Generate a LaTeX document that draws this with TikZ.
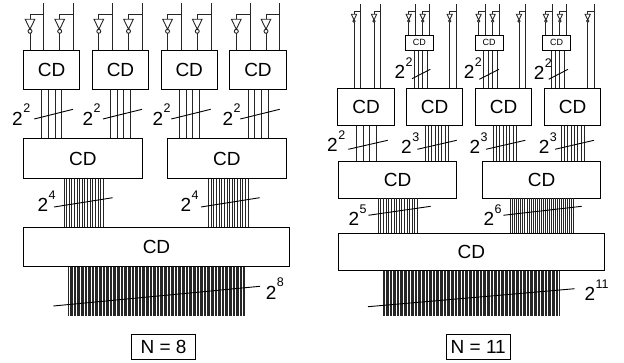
\documentclass[tikz,border=0pt]{standalone}
\usepackage{fontspec}
\setmainfont{Liberation Sans}
\usetikzlibrary{arrows.meta,positioning}
\newcommand{\pw}[1]{2\kern0.5pt\raisebox{12.4pt}{\fontsize{12.5}{12.5}\selectfont #1}}
\begin{document}
\begin{tikzpicture}[
  x=1pt,y=-1pt,
  cd/.style={rectangle,draw,line width=0.9pt,inner sep=0pt,font=\fontsize{19}{19}\selectfont},
  cdsmall/.style={cd,font=\fontsize{9}{9}\selectfont},
  wire/.style={draw=black!85,line width=0.9pt},
  busline/.style={draw=black!85,line width=1pt},
  busthick/.style={draw=black!85,line width=0.9pt},
  slash/.style={draw=black,line width=0.9pt},
  pow/.style={anchor=base west,inner sep=0pt,font=\fontsize{19}{19}\selectfont},
  caption/.style={rectangle,draw,line width=0.9pt,minimum width=63.6pt,minimum height=25.3pt,inner sep=0pt,font=\fontsize{19}{19}\selectfont},
  inv/.pic={
    \draw[wire] (-4.8,0)--(4.8,0)--(0,10)--cycle;
    \draw[wire] (0,12) circle (2);
  },
  invs/.pic={
    \draw[wire] (-2.6,0)--(2.6,0)--(0,5.6)--cycle;
    \draw[wire] (0,6.8) circle (1.2);
  }
]
  \useasboundingbox (0,0) rectangle (624,363);

  \foreach \name/\cx in {ta/51.7,tb/120.5,tc/189.25,td/258}
    \node[cd,minimum width=56.4pt,minimum height=39pt] (\name) at (\cx,70) {CD};
  \node[cd,minimum width=118.3pt,minimum height=39.6pt] (ma) at (82.85,158.5) {CD};
  \node[cd,minimum width=118.3pt,minimum height=39.6pt] (mb) at (226.85,158.5) {CD};
  \node[cd,minimum width=265.6pt,minimum height=39.7pt] (bo) at (156.5,246.85) {CD};
  \node[caption] (n8) at (163.5,347.3) {N = 8};
  \coordinate (lowend) at (0,315.7);

  \foreach \name in {ta,tb,tc,td}{
    \foreach \dx in {-8,21.7}
      \draw[wire] ([xshift=\dx pt]\name.north) -- ([xshift=\dx pt]\name.north |- 0,3.3);
    \coordinate (g1) at ([xshift=-21.7pt]\name.north |- 0,19.3);
    \coordinate (g2) at ([xshift=8pt]\name.north |- 0,19.3);
    \pic at (g1) {inv};
    \pic at (g2) {inv};
    \draw[wire] ([xshift=-21.7pt]\name.north) -- ([yshift=-14pt]g1);
    \draw[wire] ([xshift=8pt]\name.north) -- ([yshift=-14pt]g2);
    \draw[wire] (g1) |- ([yshift=5pt,xshift=13.7pt]g1);
    \draw[wire] (g2) |- ([yshift=5pt,xshift=13.7pt]g2);
  }
  \foreach \name/\to in {ta/ma,tb/ma,tc/mb,td/mb}
    \foreach \dx in {-10,-3.3,3.3,10}
      \draw[wire] ([xshift=\dx pt]\name.south) -- ([xshift=\dx pt]\name.south |- \to.north);
  \foreach \name/\cx in {ma/64,mb/208.7}
    \foreach \i in {0,...,15}
      \draw[busline] (\cx+\i*2.62,0 |- \name.south) -- (\cx+\i*2.62,0 |- bo.north);
  \foreach \i in {0,...,127}
    \draw[busthick] (68.7+\i*1.383,0 |- bo.south) -- (68.7+\i*1.383,0 |- lowend);

  \draw[slash] (34.3,119) -- (73,109.3);
  \draw[slash] (103,119) -- (142,109.3);
  \draw[slash] (171.3,119) -- (210.7,109.3);
  \draw[slash] (240.3,119) -- (279.7,109.3);
  \draw[slash] (54,207) -- (112.7,197.7);
  \draw[slash] (201,207) -- (259.7,197.7);
  \draw[slash] (53.3,306) -- (260,286.3);
  \foreach \x in {12,82.3,152.3,222.3}
    \node[pow] at (\x,125.3) {\pw{2}};
  \node[pow] at (37.3,211.6) {\pw{4}};
  \node[pow] at (180.3,211.6) {\pw{4}};
  \node[pow] at (265.7,299.3) {\pw{8}};

  \foreach \name/\cx in {ra/366,rb/434.7,rc/503.7,rd/572.5}
    \node[cd,minimum width=56.2pt,minimum height=36.6pt] (\name) at (\cx,107) {CD};
  \foreach \name/\cx in {sb/419.3,sc/489.2,sd/556.5}
    \node[cdsmall,minimum width=28.5pt,minimum height=15.7pt] (\name) at (\cx,42.85) {CD};
  \node[cd,minimum width=118.4pt,minimum height=36.7pt] (na) at (397.5,179.65) {CD};
  \node[cd,minimum width=118.4pt,minimum height=36.7pt] (nb) at (541.5,179.65) {CD};
  \node[cd,minimum width=266pt,minimum height=36.6pt] (bn) at (471.3,252) {CD};
  \node[caption] (n11) at (478.2,347.3) {N = 11};

  \foreach \name/\dxa in {ra/-12,ra/8,rb/15,rc/15.3,rd/15.2,sb/-10.6,sb/3.4,sc/-10.6,sc/3.4,sd/-10.6,sd/3.4}{
    \coordinate (g1) at ([xshift=\dxa pt]\name.north |- 0,14.3);
    \pic at (g1) {invs};
    \draw[wire] ([xshift=\dxa pt]\name.north) -- ([yshift=-8pt]g1);
    \draw[wire] (g1) |- ([yshift=2.6pt,xshift=6.6pt]g1);
    \draw[wire] ([xshift=\dxa pt+6.6pt]\name.north) -- ([xshift=\dxa pt+6.6pt]\name.north |- 0,4.3);
  }
  \foreach \name/\to in {sb/rb,sc/rc,sd/rd}
    \foreach \dx in {-5.3,-0.9,3.4,7.9}
      \draw[wire] ([xshift=\dx pt]\name.south) -- ([xshift=\dx pt]\name.south |- \to.north);

  \foreach \dx in {-9.7,-3,3.7,10.3}
    \draw[wire] ([xshift=\dx pt]ra.south) -- ([xshift=\dx pt]ra.south |- na.north);
  \foreach \name/\to/\cx in {rb/na/425,rc/nb/493,rd/nb/561}
    \foreach \i in {0,...,7}
      \draw[wire] (\cx+\i*3.35,0 |- \name.south) -- (\cx+\i*3.35,0 |- \to.north);
  \foreach \i in {0,...,15}
    \draw[busline] (378.3+\i*2.62,0 |- na.south) -- (378.3+\i*2.62,0 |- bn.north);
  \foreach \i in {0,...,31}
    \draw[busline] (510.7+\i*2.04,0 |- nb.south) -- (510.7+\i*2.04,0 |- bn.north);
  \foreach \i in {0,...,127}
    \draw[busthick] (383.4+\i*1.383,0 |- bn.south) -- (383.4+\i*1.383,0 |- lowend);

  \draw[slash] (412,78.7) -- (430.3,69.3);
  \draw[slash] (479.3,79.3) -- (499,69.3);
  \draw[slash] (548.7,79.3) -- (568,69.3);
  \draw[slash] (348.3,149.3) -- (387.7,140.3);
  \draw[slash] (417.3,149.3) -- (456.7,140.3);
  \draw[slash] (486,149.3) -- (525.3,140.3);
  \draw[slash] (555,149.3) -- (594,140.3);
  \draw[slash] (368.3,215.3) -- (430.7,206.3);
  \draw[slash] (503.3,215.3) -- (581.7,206.3);
  \draw[slash] (368,306.7) -- (574.7,288.7);
  \node[pow] at (394.3,78.6) {\pw{2}};
  \node[pow] at (463.7,78.6) {\pw{2}};
  \node[pow] at (533.7,79.6) {\pw{2}};
  \node[pow] at (327,152) {\pw{2}};
  \node[pow] at (401,154) {\pw{3}};
  \node[pow] at (469.3,154) {\pw{3}};
  \node[pow] at (538.7,154) {\pw{3}};
  \node[pow] at (348.3,226) {\pw{5}};
  \node[pow] at (483.3,226) {\pw{6}};
  \node[pow] at (584.3,301) {\pw{11}};
\end{tikzpicture}
\end{document}
